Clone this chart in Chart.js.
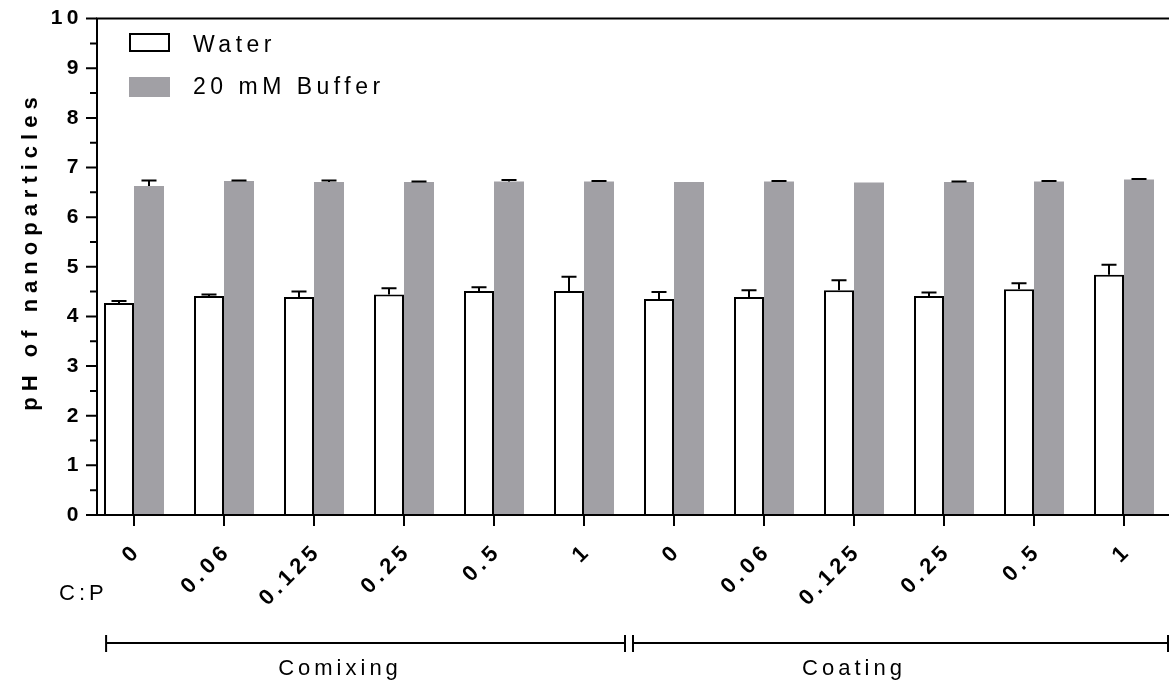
<!DOCTYPE html>
<html>
<head>
<meta charset="utf-8">
<script src="https://cdn.jsdelivr.net/npm/chart.js@4/dist/chart.umd.min.js"></script>
<style>
  html, body { margin: 0; padding: 0; background: #fff; }
  #wrap { width: 1169px; height: 681px; position: relative; }
  canvas { display: block; }
</style>
</head>
<body>
<div id="wrap"><canvas id="c" width="1169" height="681"></canvas></div>
<script>
// C:P ratios for the two preparation methods
const categories = ['0', '0.06', '0.125', '0.25', '0.5', '1', '0', '0.06', '0.125', '0.25', '0.5', '1'];
const seriesNames = ['Water', '20 mM Buffer'];

// pH means and SD (upper error bars)
const waterMean  = [4.27, 4.41, 4.39, 4.44, 4.51, 4.51, 4.35, 4.39, 4.53, 4.41, 4.55, 4.84];
const waterSD    = [0.04, 0.03, 0.11, 0.13, 0.08, 0.29, 0.14, 0.14, 0.20, 0.07, 0.12, 0.20];
const bufferMean = [6.63, 6.73, 6.71, 6.71, 6.72, 6.72, 6.71, 6.72, 6.70, 6.71, 6.72, 6.76];
const bufferSD   = [0.11, 0.01, 0.03, 0.01, 0.03, 0.01, 0.00, 0.01, 0.00, 0.01, 0.01, 0.01];

const yTickValues = [0, 1, 2, 3, 4, 5, 6, 7, 8, 9, 10];
const groupNames = ['Comixing', 'Coating'];
const groupRanges = [[0, 5], [6, 11]];

const FONT = "'Liberation Sans', Arial, Helvetica, sans-serif";
const GRAY = 'rgb(161,160,165)';

// Axes, ticks, error bars, legend and group brackets
const decorations = {
  id: 'decorations',
  beforeDraw(chart) {
    chart.ctx.letterSpacing = '4.5px';
  },
  afterDatasetsDraw(chart) {
    const ctx = chart.ctx;
    const y = chart.scales.y;
    const sets = [waterSD, bufferSD];
    ctx.save();
    ctx.strokeStyle = '#000';
    ctx.lineWidth = 2;
    chart.data.datasets.forEach((ds, di) => {
      const meta = chart.getDatasetMeta(di);
      meta.data.forEach((bar, i) => {
        const sd = sets[di][i];
        if (!sd) return;
        const top = y.getPixelForValue(ds.data[i] + sd);
        ctx.beginPath();
        ctx.moveTo(bar.x, bar.y);
        ctx.lineTo(bar.x, top);
        ctx.moveTo(bar.x - 7.5, top);
        ctx.lineTo(bar.x + 7.5, top);
        ctx.stroke();
      });
    });
    ctx.restore();
  },
  afterDraw(chart) {
    const ctx = chart.ctx;
    const x = chart.scales.x;
    const y = chart.scales.y;
    const area = chart.chartArea;
    const axisX = area.left + 8;
    const y0 = y.getPixelForValue(0);
    const y10 = y.getPixelForValue(10);

    ctx.save();
    ctx.strokeStyle = '#000';
    ctx.lineWidth = 2;
    ctx.lineCap = 'butt';

    // y axis line, top frame line and x axis line
    ctx.beginPath();
    ctx.moveTo(axisX, y10 - 1);
    ctx.lineTo(axisX, y0 + 1);
    ctx.moveTo(axisX, y10);
    ctx.lineTo(area.right, y10);
    ctx.moveTo(axisX, y0);
    ctx.lineTo(area.right, y0);
    ctx.stroke();

    // y ticks: long at integers, short at halves
    ctx.beginPath();
    for (let v = 0; v <= 10; v += 0.5) {
      const py = y.getPixelForValue(v);
      const len = Number.isInteger(v) ? 11 : 7;
      ctx.moveTo(axisX - len, py);
      ctx.lineTo(axisX, py);
    }
    ctx.stroke();

    // x ticks
    ctx.beginPath();
    x.ticks.forEach((t, i) => {
      const px = x.getPixelForTick(i);
      ctx.moveTo(px, y0);
      ctx.lineTo(px, y0 + 11);
    });
    ctx.stroke();

    // group brackets
    const half = (x.getPixelForTick(1) - x.getPixelForTick(0)) / 2;
    const split = (x.getPixelForTick(groupRanges[0][1]) + x.getPixelForTick(groupRanges[1][0])) / 2;
    const bracketY = 643;
    const spans = [
      [x.getPixelForTick(groupRanges[0][0]) - half * 0.62, split - 4],
      [split + 4, area.right - 1]
    ];
    ctx.beginPath();
    spans.forEach(([a, b]) => {
      ctx.moveTo(a, bracketY);
      ctx.lineTo(b, bracketY);
      ctx.moveTo(a, bracketY - 8);
      ctx.lineTo(a, bracketY + 9);
      ctx.moveTo(b, bracketY - 8);
      ctx.lineTo(b, bracketY + 9);
    });
    ctx.stroke();

    // texts
    ctx.fillStyle = '#000';
    ctx.textBaseline = 'alphabetic';
    ctx.font = '22px ' + FONT;
    ctx.letterSpacing = '4px';
    ctx.textAlign = 'left';
    ctx.fillText('C:P', 59, 600);
    const labelCenters = [338, 852];
    ctx.textAlign = 'center';
    groupNames.forEach((g, i) => ctx.fillText(g, labelCenters[i] + 2, 675));

    // legend
    const ds = chart.data.datasets;
    ctx.font = '23px ' + FONT;
    ctx.letterSpacing = '4.5px';
    ctx.textAlign = 'left';
    ctx.textBaseline = 'middle';
    ctx.lineWidth = 2;
    ctx.fillStyle = ds[0].backgroundColor;
    ctx.fillRect(130, 34, 39, 17);
    ctx.strokeStyle = ds[0].borderColor;
    ctx.strokeRect(130, 34, 39, 17);
    ctx.fillStyle = ds[1].backgroundColor;
    ctx.fillRect(129, 77, 41, 20);
    ctx.fillStyle = '#000';
    ctx.fillText(ds[0].label, 193, 46);
    ctx.fillText(ds[1].label, 193, 88);

    // y axis title
    ctx.font = 'bold 22px ' + FONT;
    ctx.letterSpacing = '6px';
    ctx.translate(31, 254);
    ctx.rotate(-Math.PI / 2);
    ctx.textAlign = 'center';
    ctx.textBaseline = 'middle';
    ctx.fillText('pH of nanoparticles', 3, 0);
    ctx.restore();
  }
};

new Chart(document.getElementById('c'), {
  type: 'bar',
  data: {
    labels: categories,
    datasets: [
      {
        label: seriesNames[0],
        data: waterMean,
        backgroundColor: '#ffffff',
        borderColor: '#000000',
        borderWidth: 2,
        categoryPercentage: 2 / 3,
        barPercentage: 1
      },
      {
        label: seriesNames[1],
        data: bufferMean,
        backgroundColor: GRAY,
        borderWidth: 0,
        categoryPercentage: 2 / 3,
        barPercentage: 1
      }
    ]
  },
  options: {
    responsive: false,
    animation: false,
    devicePixelRatio: 1,
    layout: { padding: { top: 18, right: 0, bottom: 0, left: 0 } },
    plugins: { legend: { display: false }, tooltip: { enabled: false } },
    scales: {
      x: {
        type: 'category',
        offset: true,
        grid: { display: false },
        border: { display: false },
        ticks: {
          autoSkip: false,
          minRotation: 45,
          maxRotation: 45,
          padding: 15,
          labelOffset: 4,
          color: '#000',
          font: { family: FONT, size: 22, weight: 'bold' }
        },
        afterFit(scale) { scale.height = 166; }
      },
      y: {
        min: 0,
        max: 10,
        afterBuildTicks(scale) { scale.ticks = yTickValues.map(v => ({ value: v })); },
        grid: { display: false, drawTicks: false },
        border: { display: false },
        ticks: {
          padding: 6,
          color: '#000',
          font: { family: FONT, size: 21, weight: 'bold' }
        },
        afterFit(scale) { scale.width = 89; }
      }
    }
  },
  plugins: [decorations]
});
</script>
</body>
</html>
